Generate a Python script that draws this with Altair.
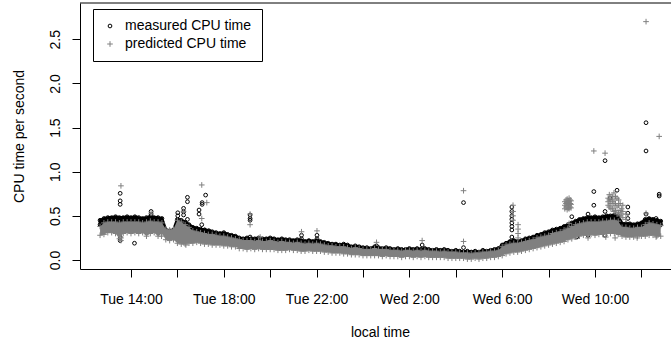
import altair as alt
import pandas as pd

# ---------------- data ----------------
START = "2024-01-02 12:40"          # Tuesday, first sample
STEP = "10min"                      # one slot every 10 minutes

# measured CPU time: upper / lower edge of the black band per slot
m_hi = [0.45, 0.47, 0.48, 0.48, 0.49, 0.48, 0.48, 0.49, 0.48, 0.49, 0.48, 0.47, 0.48, 0.49, 0.48, 0.48, 0.47,
        0.34, 0.33, 0.34,
        0.46, 0.45, 0.43, 0.40,
        0.37, 0.36, 0.35, 0.34, 0.33, 0.32, 0.31, 0.30, 0.31, 0.29, 0.28, 0.27,
        0.25, 0.24, 0.25, 0.24, 0.24, 0.25, 0.24, 0.24, 0.25, 0.24, 0.23, 0.24, 0.23, 0.23, 0.22, 0.23,
        0.22, 0.21, 0.22, 0.21, 0.22, 0.21, 0.20, 0.19, 0.18, 0.18, 0.17, 0.18, 0.17, 0.15, 0.16, 0.15,
        0.14, 0.14, 0.13,
        0.15, 0.14, 0.13, 0.14, 0.13, 0.12, 0.13, 0.12, 0.12, 0.13, 0.12, 0.13, 0.12, 0.13, 0.12, 0.11,
        0.12, 0.11, 0.12, 0.11, 0.10, 0.11, 0.10, 0.09, 0.10, 0.09, 0.10, 0.09, 0.11, 0.10, 0.11, 0.12, 0.13,
        0.17, 0.19, 0.21, 0.22, 0.21, 0.22, 0.24, 0.25, 0.26, 0.28, 0.29, 0.31, 0.32, 0.34, 0.35, 0.36,
        0.38, 0.40, 0.42, 0.44, 0.46, 0.47, 0.48, 0.48, 0.49, 0.48, 0.49, 0.50, 0.50, 0.51, 0.50,
        0.41, 0.41, 0.41, 0.40, 0.41, 0.42, 0.46, 0.47, 0.46, 0.45, 0.44]
m_lo = [0.40, 0.43, 0.44, 0.44, 0.44, 0.43, 0.44, 0.44, 0.44, 0.44, 0.44, 0.43, 0.44, 0.44, 0.44, 0.43, 0.43,
        0.30, 0.30, 0.31,
        0.41, 0.40, 0.38, 0.37,
        0.34, 0.33, 0.32, 0.31, 0.31, 0.30, 0.29, 0.28, 0.28, 0.27, 0.26, 0.26,
        0.23, 0.22, 0.23, 0.22, 0.22, 0.23, 0.22, 0.22, 0.22, 0.22, 0.21, 0.22, 0.21, 0.21, 0.20, 0.21,
        0.20, 0.19, 0.20, 0.19, 0.20, 0.19, 0.18, 0.17, 0.16, 0.16, 0.15, 0.16, 0.15, 0.14, 0.14, 0.13,
        0.13, 0.12, 0.12,
        0.13, 0.12, 0.12, 0.12, 0.11, 0.11, 0.11, 0.10, 0.11, 0.11, 0.10, 0.11, 0.10, 0.11, 0.10, 0.10,
        0.10, 0.10, 0.10, 0.09, 0.09, 0.09, 0.08, 0.08, 0.08, 0.07, 0.08, 0.08, 0.09, 0.09, 0.10, 0.10, 0.11,
        0.15, 0.17, 0.18, 0.19, 0.19, 0.20, 0.21, 0.22, 0.23, 0.25, 0.26, 0.27, 0.28, 0.30, 0.31, 0.32,
        0.34, 0.36, 0.38, 0.40, 0.42, 0.43, 0.44, 0.44, 0.44, 0.44, 0.45, 0.45, 0.45, 0.46, 0.45,
        0.38, 0.38, 0.37, 0.37, 0.38, 0.38, 0.41, 0.42, 0.42, 0.41, 0.40]

# predicted CPU time: upper / lower edge of the grey band per slot
p_hi = [0.38, 0.42, 0.43, 0.43, 0.43, 0.42, 0.43, 0.43, 0.43, 0.43, 0.43, 0.42, 0.43, 0.44, 0.43, 0.43, 0.42,
        0.35, 0.34, 0.35,
        0.45, 0.43, 0.40, 0.37,
        0.33, 0.32, 0.31, 0.30, 0.29, 0.29, 0.28, 0.27, 0.27, 0.26, 0.25, 0.24,
        0.23, 0.22, 0.22, 0.22, 0.21, 0.22, 0.21, 0.21, 0.22, 0.21, 0.20, 0.21, 0.20, 0.20, 0.19, 0.20,
        0.19, 0.18, 0.19, 0.18, 0.19, 0.18, 0.17, 0.16, 0.16, 0.15, 0.15, 0.15, 0.14, 0.13, 0.14, 0.13,
        0.12, 0.12, 0.12,
        0.13, 0.12, 0.12, 0.12, 0.11, 0.11, 0.11, 0.10, 0.11, 0.11, 0.10, 0.11, 0.10, 0.11, 0.10, 0.10,
        0.10, 0.09, 0.10, 0.09, 0.09, 0.09, 0.08, 0.08, 0.08, 0.07, 0.08, 0.08, 0.09, 0.09, 0.10, 0.10, 0.11,
        0.15, 0.17, 0.18, 0.19, 0.19, 0.20, 0.21, 0.22, 0.23, 0.25, 0.26, 0.27, 0.28, 0.30, 0.31, 0.32,
        0.34, 0.36, 0.38, 0.40, 0.41, 0.42, 0.43, 0.43, 0.43, 0.43, 0.44, 0.44, 0.45, 0.45, 0.44,
        0.37, 0.37, 0.36, 0.36, 0.37, 0.37, 0.40, 0.42, 0.41, 0.40, 0.39]
p_lo = [0.28, 0.29, 0.31, 0.31, 0.30, 0.24, 0.30, 0.31, 0.30, 0.31, 0.30, 0.31, 0.27, 0.30, 0.31, 0.27, 0.30,
        0.23, 0.22, 0.23,
        0.19, 0.18, 0.18, 0.19,
        0.19, 0.20, 0.19, 0.18, 0.18, 0.17, 0.17, 0.17, 0.16, 0.16, 0.15, 0.15,
        0.13, 0.13, 0.12, 0.13, 0.12, 0.13, 0.12, 0.12, 0.12, 0.12, 0.11, 0.11, 0.11, 0.12, 0.11, 0.11,
        0.10, 0.10, 0.11, 0.10, 0.10, 0.10, 0.09, 0.09, 0.08, 0.08, 0.08, 0.07, 0.07, 0.06, 0.06, 0.06,
        0.05, 0.05, 0.05,
        0.05, 0.05, 0.04, 0.05, 0.04, 0.04, 0.04, 0.03, 0.04, 0.04, 0.03, 0.04, 0.03, 0.04, 0.03, 0.03,
        0.03, 0.03, 0.03, 0.02, 0.02, 0.02, 0.02, 0.02, 0.01, 0.01, 0.02, 0.01, 0.02, 0.02, 0.03, 0.03, 0.04,
        0.05, 0.07, 0.08, 0.09, 0.09, 0.10, 0.11, 0.12, 0.13, 0.14, 0.15, 0.16, 0.17, 0.18, 0.19, 0.20,
        0.21, 0.23, 0.24, 0.26, 0.27, 0.28, 0.28, 0.29, 0.28, 0.29, 0.29, 0.30, 0.30, 0.30, 0.29,
        0.27, 0.26, 0.26, 0.26, 0.27, 0.27, 0.27, 0.28, 0.28, 0.27, 0.27]

# isolated measured values (time, values)
m_out = [("Tue 13:32", [0.755, 0.67, 0.63, 0.26, 0.22]), ("Tue 14:09", [0.19]),
         ("Tue 14:52", [0.55, 0.51]), ("Tue 16:01", [0.535, 0.50]),
         ("Tue 16:16", [0.585, 0.547, 0.51]), ("Tue 16:26", [0.71, 0.66, 0.46]),
         ("Tue 16:56", [0.566, 0.52]), ("Tue 17:03", [0.40]), ("Tue 17:04", [0.65, 0.63]),
         ("Tue 17:11", [0.34]), ("Tue 17:13", [0.735]), ("Tue 17:22", [0.33]),
         ("Tue 19:08", [0.51, 0.47, 0.45, 0.26]), ("Tue 21:21", [0.28, 0.24]),
         ("Tue 22:01", [0.28, 0.24]), ("Wed 0:35", [0.16]), ("Wed 2:33", [0.17]),
         ("Wed 4:20", [0.65, 0.14]), ("Wed 6:25", [0.60, 0.55, 0.50, 0.46, 0.42, 0.38, 0.34, 0.26]),
         ("Wed 9:00", [0.49]), ("Wed 9:13", [0.26]), ("Wed 9:42", [0.52, 0.28]),
         ("Wed 9:57", [0.775, 0.62]), ("Wed 10:26", [1.125, 0.55, 0.28]), ("Wed 10:39", [0.70]),
         ("Wed 10:57", [0.79]), ("Wed 11:25", [0.60, 0.53, 0.47]),
         ("Wed 12:12", [1.555, 1.235, 0.52]), ("Wed 12:38", [0.47]), ("Wed 12:46", [0.745, 0.725])]

# isolated predicted values (time, values)
p_out = [("Tue 13:34", [0.84, 0.25, 0.22]), ("Tue 14:52", [0.53]), ("Tue 15:19", [0.27]),
         ("Tue 16:16", [0.55]), ("Tue 16:22", [0.17]), ("Tue 17:03", [0.85, 0.47]),
         ("Tue 17:16", [0.65]), ("Tue 19:08", [0.52, 0.40]), ("Tue 19:34", [0.26]),
         ("Tue 21:21", [0.32]), ("Tue 22:01", [0.33]), ("Wed 0:35", [0.20]), ("Wed 2:33", [0.22]),
         ("Wed 4:20", [0.785, 0.21]), ("Wed 6:28", [0.62, 0.55, 0.50, 0.45]),
         ("Wed 6:41", [0.40, 0.35, 0.30, 0.25]), ("Wed 8:42", [0.58, 0.62, 0.66]),
         ("Wed 8:45", [0.60, 0.64, 0.68]), ("Wed 8:48", [0.57, 0.61, 0.65, 0.69]),
         ("Wed 8:51", [0.59, 0.63, 0.67]), ("Wed 8:53", [0.58, 0.62, 0.66, 0.70, 0.415]),
         ("Wed 8:56", [0.60, 0.64, 0.68]), ("Wed 8:58", [0.59, 0.63, 0.67]),
         ("Wed 9:08", [0.26]), ("Wed 9:42", [0.25]),
         ("Wed 9:57", [1.235]), ("Wed 10:26", [1.21]), ("Wed 10:28", [0.26]),
         ("Wed 10:34", [0.62, 0.66, 0.70]), ("Wed 10:37", [0.60, 0.68, 0.74]),
         ("Wed 10:41", [0.58, 0.64, 0.72]), ("Wed 10:45", [0.58, 0.66, 0.72]),
         ("Wed 10:49", [0.55, 0.62, 0.68, 0.76]), ("Wed 10:52", [0.25]),
         ("Wed 10:53", [0.56, 0.64, 0.72]), ("Wed 10:57", [0.52, 0.60, 0.70]),
         ("Wed 11:01", [0.54, 0.62, 0.68]), ("Wed 11:05", [0.50, 0.56, 0.64]),
         ("Wed 11:09", [0.52, 0.58]), ("Wed 11:12", [0.48, 0.55, 0.62]),
         ("Wed 11:20", [0.46, 0.52]), ("Wed 11:49", [0.25]),
         ("Wed 12:12", [2.70, 0.53]), ("Wed 12:38", [0.26]), ("Wed 12:46", [1.40])]

SERIES = ["measured CPU time", "predicted CPU time"]
Y_TICKS = [0.0, 0.5, 1.0, 1.5, 2.0, 2.5]

# ---------------- tables ----------------
DAYS = {"Tue": "2024-01-02", "Wed": "2024-01-03"}


def ts(s):
    d, hm = s.split()
    return pd.Timestamp(f"{DAYS[d]} {hm}")


times = pd.date_range(START, periods=len(m_hi), freq=STEP)
rows_m, rows_p = [], []
for t, a, b in zip(times, m_hi, m_lo):
    rows_m += [(t, a), (t, b)]
for t, a, b in zip(times, p_hi, p_lo):
    rows_p += [(t, a), (t, b)]
for s, vals in m_out:
    rows_m += [(ts(s), v) for v in vals]
for s, vals in p_out:
    rows_p += [(ts(s), v) for v in vals]

meas = pd.DataFrame(rows_m, columns=["time", "value"]).assign(series=SERIES[0])
pred = pd.DataFrame(rows_p, columns=["time", "value"]).assign(series=SERIES[1])
mband = pd.DataFrame({"time": times, "value": m_lo, "value2": m_hi})
pband = pd.DataFrame({"time": times, "value": p_lo, "value2": p_hi})

# ---------------- chart ----------------
GRAY = "#808080"
PLUS = "M-1,0L1,0M0,-1L0,1"
W, H = 591, 266

xscale = alt.Scale(domain=[alt.DateTime(year=2024, month=1, date=2, hours=11, minutes=48, seconds=7),
                           alt.DateTime(year=2024, month=1, date=3, hours=13, minutes=16, seconds=34)])
tick_vals = [alt.DateTime(year=2024, month=1, date=2 + (h // 24), hours=h % 24) for h in range(14, 37, 2)]
xaxis = alt.Axis(values=tick_vals,
                 labelExpr="hours(datum.value) % 4 == 2 ? timeFormat(datum.value, '%a %-H:%M') : ''",
                 tickSize=8, labelPadding=26, labelBaseline="alphabetic", labelOverlap=False,
                 labelFlush=False, titleX=300, titleY=67, titleBaseline="alphabetic", titleAlign="center")
yscale = alt.Scale(domain=[-0.102, 2.911], nice=False, zero=False)
yaxis = alt.Axis(values=Y_TICKS, format=".1f", tickSize=8, labelAngle=270, labelAlign="center",
                 labelBaseline="alphabetic", labelPadding=13, labelOverlap=False, labelFlush=False,
                 titleAngle=270, titleX=-57, titleY=133, titleBaseline="alphabetic", titleAlign="center")

x_enc = alt.X("time:T", scale=xscale, axis=xaxis, title="local time")
y_enc = alt.Y("value:Q", scale=yscale, axis=yaxis, title="CPU time per second")
leg = alt.Legend(title=None)
color = alt.Color("series:N", scale=alt.Scale(domain=SERIES, range=["black", GRAY]), legend=leg)
shape = alt.Shape("series:N", scale=alt.Scale(domain=SERIES, range=["circle", PLUS]), legend=leg)
size = alt.Size("series:N", scale=alt.Scale(domain=SERIES, range=[14, 32]), legend=leg)

area_m = alt.Chart(mband).mark_area(color="black", opacity=1, stroke="black", strokeWidth=3,
                                    strokeJoin="round").encode(
    x=x_enc, y=y_enc, y2=alt.Y2("value2:Q"))
pts_m = alt.Chart(meas).mark_point(filled=False, strokeWidth=1, opacity=1).encode(
    x=x_enc, y=y_enc, color=color, shape=shape, size=size)
area_p = alt.Chart(pband).mark_area(color=GRAY, opacity=1).encode(
    x=x_enc, y=y_enc, y2=alt.Y2("value2:Q"))
pts_p = alt.Chart(pred).mark_point(filled=False, strokeWidth=1, opacity=1).encode(
    x=x_enc, y=y_enc, color=color, shape=shape, size=size)
top = alt.Chart(pd.DataFrame({"k": [0]})).mark_rule(color="black", strokeWidth=1).encode(
    x=alt.value(0), x2=alt.value(W), y=alt.value(0))

chart = alt.layer(area_m, pts_m, area_p, pts_p, top).properties(
    width=W, height=H,
    padding={"left": 80, "top": 3, "right": 0, "bottom": 70},
    autosize=alt.AutoSizeParams(type="none"),
).configure(
    font="Liberation Sans",
).configure_view(
    stroke=None,
).configure_axis(
    labelFont="Liberation Sans", titleFont="Liberation Sans",
    labelFontSize=14, titleFontSize=14, titleFontWeight="normal",
    labelColor="black", titleColor="black", domainColor="black", tickColor="black",
    domainWidth=1, tickWidth=1, grid=False,
).configure_legend(
    orient="none", legendX=13, legendY=6, padding=10, strokeColor="black", fillColor="white",
    labelFont="Liberation Sans", labelFontSize=14, labelColor="black", rowPadding=4,
    labelOffset=8, symbolStrokeWidth=1, cornerRadius=0,
)

chart.save("out.html", embed_options={"renderer": "svg", "actions": False})
